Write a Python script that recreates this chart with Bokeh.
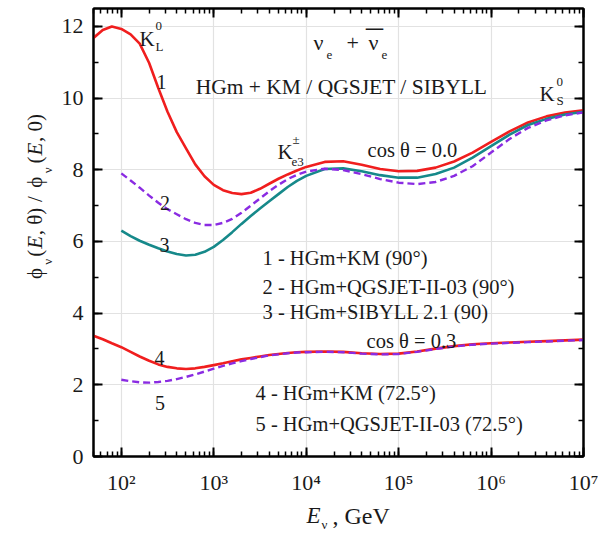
from bokeh.plotting import figure
from bokeh.layouts import column, row
from bokeh.models import (Label, LogAxis, LinearAxis, SingleIntervalTicker, LogTicker,
                          CustomJSTickFormatter, Range1d)
from bokeh.embed import file_html
from bokeh.resources import INLINE
import math

# ---------------- data ----------------
E_full = [50, 63, 79, 100, 126, 158, 200, 251, 316, 398, 501, 631, 794, 1000, 1259, 1585,
          1995, 2512, 3162, 3981, 5012, 6310, 7943, 1e4, 1.585e4, 2.512e4, 3.981e4, 6.31e4,
          1e5, 1.585e5, 2.512e5, 3.981e5, 6.31e5, 1e6, 1.585e6, 2.512e6, 3.981e6, 6.31e6, 1e7]
E_from100 = E_full[3:]

# cos(theta) = 0.0
km_90 = [11.68, 11.90, 12.00, 11.93, 11.78, 11.52, 10.98, 10.28, 9.62, 9.05, 8.60, 8.15, 7.82,
         7.58, 7.43, 7.35, 7.32, 7.36, 7.47, 7.61, 7.75, 7.87, 7.98, 8.08, 8.22, 8.24, 8.14,
         8.02, 7.96, 7.97, 8.06, 8.23, 8.48, 8.78, 9.07, 9.32, 9.49, 9.60, 9.66]
qgs_90 = [7.90, 7.70, 7.50, 7.28, 7.08, 6.90, 6.76, 6.62, 6.52, 6.46, 6.46, 6.52, 6.63, 6.80,
          7.00, 7.20, 7.40, 7.58, 7.74, 7.86, 7.95, 8.03, 7.99, 7.88, 7.74, 7.64, 7.60, 7.66,
          7.83, 8.10, 8.48, 8.86, 9.17, 9.38, 9.52, 9.60]
sib_90 = [6.30, 6.15, 6.02, 5.91, 5.81, 5.72, 5.65, 5.61, 5.63, 5.71, 5.85, 6.04, 6.26, 6.49,
          6.71, 6.92, 7.12, 7.32, 7.52, 7.69, 7.83, 8.02, 8.04, 7.96, 7.85, 7.78, 7.78, 7.88,
          8.06, 8.34, 8.66, 8.98, 9.25, 9.42, 9.54, 9.62]
# cos(theta) = 0.3
km_725 = [3.37, 3.27, 3.16, 3.05, 2.92, 2.79, 2.67, 2.57, 2.50, 2.46, 2.44, 2.46, 2.50, 2.55,
          2.60, 2.66, 2.71, 2.75, 2.79, 2.83, 2.86, 2.89, 2.91, 2.92, 2.93, 2.92, 2.88, 2.86,
          2.87, 2.93, 3.01, 3.08, 3.13, 3.16, 3.18, 3.20, 3.22, 3.24, 3.26]
qgs_725 = [2.14, 2.10, 2.07, 2.06, 2.08, 2.11, 2.16, 2.22, 2.29, 2.37, 2.45, 2.53, 2.60, 2.66,
           2.72, 2.77, 2.82, 2.85, 2.88, 2.90, 2.91, 2.92, 2.91, 2.87, 2.85, 2.86, 2.92, 3.00,
           3.07, 3.12, 3.15, 3.17, 3.19, 3.21, 3.23, 3.25]

# ---------------- styles ----------------
RED = "#f01e1e"
TEAL = "#16898a"
PURPLE = "#8a2be2"
FONT = "Liberation Serif, serif"
TXT = "#1a1a1a"

YW = 56            # width of the strip that carries the y title
MW, MH = 542, 500  # main plot
XH = 32            # height of the strip that carries the x title
FL, FR, FT, FB = 93, 583, 8, 456   # frame edges in page pixels

p = figure(width=MW, height=MH, x_axis_type="log", x_range=Range1d(50, 1e7),
           y_range=Range1d(0, 12.5), output_backend="svg", toolbar_location=None,
           min_border_left=FL - YW, min_border_right=YW + MW - FR, min_border_top=FT,
           min_border_bottom=MH - FB,
           background_fill_color="white", border_fill_color="white")

p.outline_line_color = "black"
p.outline_line_width = 2

xt = LogTicker(num_minor_ticks=10)
yt = SingleIntervalTicker(interval=2, num_minor_ticks=2)
sup = CustomJSTickFormatter(code="""
const s = {'0':'\u2070','1':'\u00b9','2':'\u00b2','3':'\u00b3','4':'\u2074','5':'\u2075','6':'\u2076','7':'\u2077','8':'\u2078','9':'\u2079'};
const e = String(Math.round(Math.log10(tick)));
return '10' + e.split('').map(c => s[c]).join('');
""")
blank = CustomJSTickFormatter(code="return ' ';")

def style_axis(ax, labels=True):
    ax.axis_line_color = "black"
    ax.axis_line_width = 2
    ax.major_tick_in = 9
    ax.major_tick_out = 0
    ax.minor_tick_in = 5
    ax.minor_tick_out = 0
    ax.major_tick_line_color = "black"
    ax.major_tick_line_width = 2
    ax.minor_tick_line_color = "black"
    ax.minor_tick_line_width = 1.5
    if labels:
        ax.major_label_text_font = FONT
        ax.major_label_text_font_size = "22px"
        ax.major_label_text_color = TXT
    else:
        ax.formatter = blank
        ax.major_label_text_font_size = "1px"
        ax.major_label_standoff = 0

p.xaxis.ticker = xt
p.xaxis.formatter = sup
p.yaxis.ticker = yt
style_axis(p.xaxis[0])
style_axis(p.yaxis[0])
p.xaxis.major_label_standoff = 13
p.yaxis.major_label_standoff = 10

top = LogAxis(ticker=LogTicker(num_minor_ticks=10))
style_axis(top, labels=False)
p.add_layout(top, "above")
right = LinearAxis(ticker=SingleIntervalTicker(interval=2, num_minor_ticks=2))
style_axis(right, labels=False)
p.add_layout(right, "right")

p.xgrid.ticker = xt
p.ygrid.ticker = yt
p.xgrid.grid_line_color = "#e2e2e2"
p.ygrid.grid_line_color = "#e2e2e2"
p.xgrid.grid_line_width = 1.2
p.ygrid.grid_line_width = 1.2

# ---------------- curves ----------------
p.line(E_full, km_90, line_color=RED, line_width=2.6)
p.line(E_from100, sib_90, line_color=TEAL, line_width=2.6)
p.line(E_from100, qgs_90, line_color=PURPLE, line_width=2.4, line_dash="7 4")
p.line(E_full, km_725, line_color=RED, line_width=2.6)
p.line(E_from100, qgs_725, line_color=PURPLE, line_width=2.4, line_dash="7 4")


def lab(fig, x, y, text, size=20, align="left", style="normal", angle=0):
    fig.add_layout(Label(x=x, y=y, text=text, text_font=FONT,
                         text_font_size=f"{size}px", text_font_style=style, text_color=TXT,
                         text_align=align, text_baseline="alphabetic", angle=angle))

# kaon labels
lab(p, 157, 11.66, "K", 21)
lab(p, 234, 12.0, "0", 13)
lab(p, 234, 11.44, "L", 13)
lab(p, 3.34e6, 10.12, "K", 21)
lab(p, 5.1e6, 10.46, "0", 13)
lab(p, 5.1e6, 9.93, "S", 13)
lab(p, 4.9e3, 8.50, "K", 21)
lab(p, 7.1e3, 8.84, "\u00b1", 13)
lab(p, 6.94e3, 8.22, "e3", 13)

# neutrino header
lab(p, 1.2e4, 11.55, "\u03bd", 22)
lab(p, 1.66e4, 11.21, "e", 13)
lab(p, 2.73e4, 11.55, "+", 22)
lab(p, 4.72e4, 11.55, "\u03bd", 22)
lab(p, 5.48e4, 11.55, "\u00af", 34, align="center")
lab(p, 6.53e4, 11.21, "e", 13)
lab(p, 2.41e4, 10.32, "HGm + KM / QGSJET / SIBYLL", 21.5, align="center")

# curve numbers
lab(p, 272, 10.46, "1", 20, align="center")
lab(p, 297, 7.07, "2", 20, align="center")
lab(p, 293, 5.90, "3", 20, align="center")
lab(p, 259, 2.74, "4", 20, align="center")
lab(p, 262, 1.48, "5", 20, align="center")

# cos theta labels
lab(p, 4.61e4, 8.56, "cos \u03b8 =  0.0", 20.5)
lab(p, 4.5e4, 3.22, "cos \u03b8  = 0.3", 20.5)

# legend texts
lab(p, 3.37e3, 5.54, "1 -  HGm+KM (90\u00b0)", 20.5)
lab(p, 3.37e3, 4.73, "2 - HGm+QGSJET-II-03 (90\u00b0)", 20.5)
lab(p, 3.37e3, 4.03, "3 -   HGm+SIBYLL 2.1 (90)", 20.5)
lab(p, 2.83e3, 1.76, "4 -   HGm+KM (72.5\u00b0)", 20.5)
lab(p, 2.83e3, 0.92, "5 -  HGm+QGSJET-II-03  (72.5\u00b0)", 20.5)


def strip(w, h, xr, yr):
    f = figure(width=w, height=h, x_range=xr, y_range=yr, output_backend="svg",
               toolbar_location=None, x_axis_location=None, y_axis_location=None,
               min_border_left=0, min_border_right=0, min_border_top=0, min_border_bottom=0,
               background_fill_color="white", border_fill_color="white")
    f.grid.visible = False
    f.outline_line_color = None
    return f

# y title strip: coordinates are page pixels (y grows downward)
ys = strip(YW, MH, Range1d(0, YW), Range1d(MH, 0))
A = math.pi / 2
bx, sbx = 34, 47
lab(ys, bx, 302, "\u03d5", 21, angle=A)
lab(ys, sbx, 286, "\u03bd", 13, angle=A)
lab(ys, bx, 277, "(", 21, angle=A)
lab(ys, bx, 268, "E", 21, style="italic", angle=A)
lab(ys, bx, 253, ", \u03b8)", 21, angle=A)
lab(ys, bx, 216, "/", 21, angle=A)
lab(ys, bx, 200, "\u03d5", 21, angle=A)
lab(ys, sbx, 184, "\u03bd", 13, angle=A)
lab(ys, bx, 173, "(", 21, angle=A)
lab(ys, bx, 164, "E", 21, style="italic", angle=A)
lab(ys, bx, 149, ", 0)", 21, angle=A)

# x title strip: coordinates are page pixels
xs = strip(YW + MW, XH, Range1d(0, YW + MW), Range1d(MH + XH, MH))
lab(xs, 306, 515, "E", 23, style="italic")
lab(xs, 321, 524, "\u03bd", 13)
lab(xs, 332, 515, ", GeV", 24)

layout = column(row(ys, p, spacing=0), xs, spacing=0)
open("out.html", "w").write(file_html(layout, INLINE))
